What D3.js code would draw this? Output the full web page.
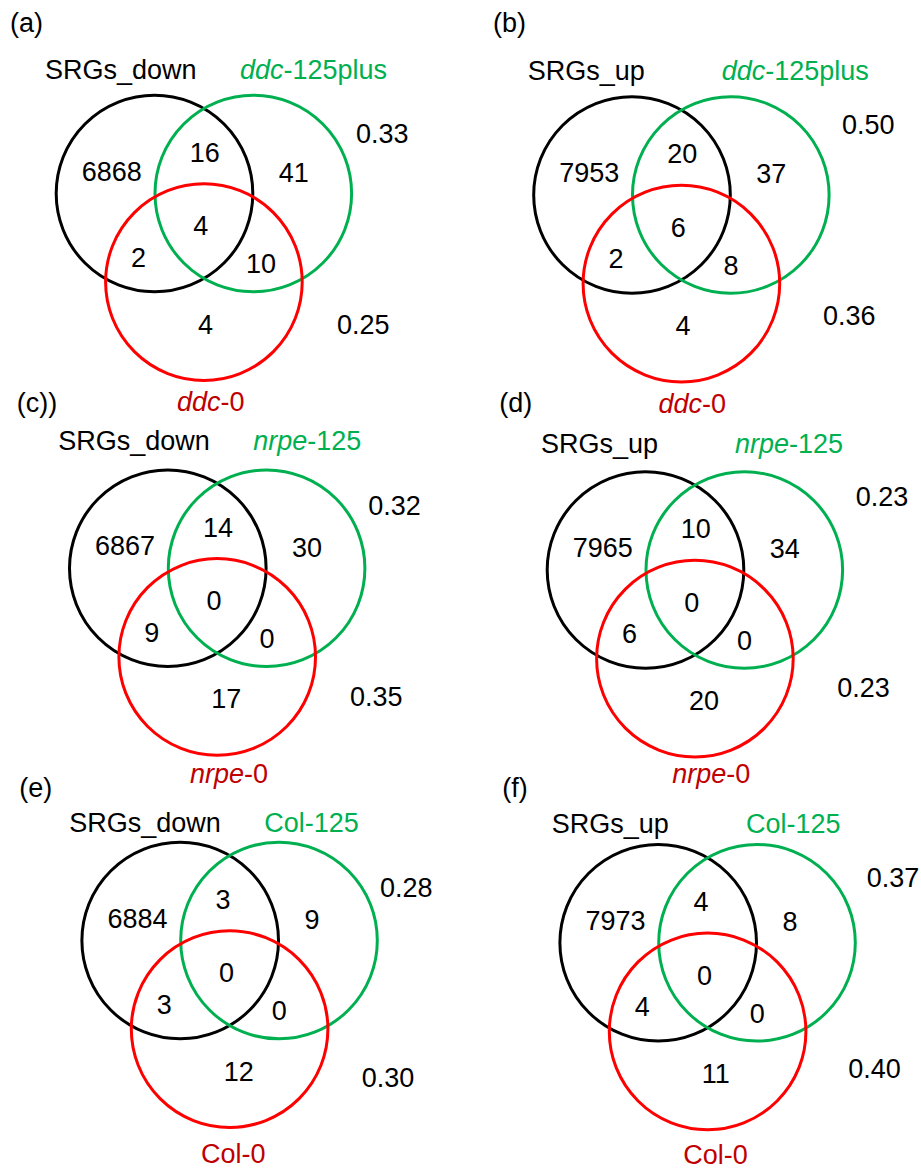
<!DOCTYPE html>
<html>
<head>
<meta charset="utf-8">
<script src="https://cdn.jsdelivr.net/npm/d3@7/dist/d3.min.js"></script>
<style>
  body { margin: 0; background: #fff; }
  text { font-family: Arial, "Liberation Sans", sans-serif; font-size: 27px; }
</style>
</head>
<body>
<div id="venn"></div>
<script>
// panel data
var panelTags = ["(a)", "(b)", "(c))", "(d)", "(e)", "(f)"];
var srgLabels = ["SRGs_down", "SRGs_up", "SRGs_down", "SRGs_up", "SRGs_down", "SRGs_up"];
var genotypes = ["ddc", "ddc", "nrpe", "nrpe", "Col", "Col"];
var greenSuffix = ["-125plus", "-125plus", "-125", "-125", "-125", "-125"];
var redSuffix = ["-0", "-0", "-0", "-0", "-0", "-0"];
// region counts: [SRG only, SRG&green, green only, all three, SRG&red, green&red, red only]
var regionCounts = [
  [6868, 16, 41, 4, 2, 10, 4],
  [7953, 20, 37, 6, 2, 8, 4],
  [6867, 14, 30, 0, 9, 0, 17],
  [7965, 10, 34, 0, 6, 0, 20],
  [6884, 3, 9, 0, 3, 0, 12],
  [7973, 4, 8, 0, 4, 0, 11]
];
var greenRatios = ["0.33", "0.50", "0.32", "0.23", "0.28", "0.37"];
var redRatios = ["0.25", "0.36", "0.35", "0.23", "0.30", "0.40"];

// layout (pixels)
var width = 921, height = 1169;
var unit = 98.8;
var circleCenters = [[0, 0], [1, 0], [0.5, 0.897]];
var circleColors = ["#000000", "#00b050", "#ff0000"];
var circleR = 0.995;
var origins = [[154.5, 193.5], [632, 195], [167.8, 568.3], [645.5, 570], [180.2, 940.5], [658.2, 942.8]];
var regionOffsets = [[-72.8, -13], [35.3, -31.8], [124.2, -11.7], [38.7, 41.8], [-23.5, 73.4], [91.6, 79.8], [43.5, 140]];
var outerOffsets = [
  { tag: [-144.5, -161.5], srg: [-109.5, -114.5], green: [85.5, -114.5], red: [22.5, 217.2], rg: [201.5, -50.5], rr: [182.5, 140.5] },
  { tag: [-139, -163], srg: [-104.3, -115], green: [89.7, -115], red: [26.5, 217.6], rg: [210, -61], rr: [191, 130] },
  { tag: [-151.1, -156.6], srg: [-109.5, -118.3], green: [85.5, -118.3], red: [22.2, 215], rg: [200.5, -53.3], rr: [182.2, 137.4] },
  { tag: [-146.2, -158.3], srg: [-104.5, -117.3], green: [89.5, -117.3], red: [26.8, 213.3], rg: [210.2, -64], rr: [191.8, 126.7] },
  { tag: [-160.9, -143.8], srg: [-110.9, -108.2], green: [84.1, -108.2], red: [20.8, 222.8], rg: [199.8, -43.8], rr: [181.5, 146.2] },
  { tag: [-155.9, -146.1], srg: [-106.5, -109.5], green: [87.8, -109.5], red: [25.1, 221.5], rg: [208.5, -55.5], rr: [190.1, 135.5] }
];

var svg = d3.select("#venn")
  .append("svg")
  .attr("width", width)
  .attr("height", height);

panelTags.forEach(function (tag, i) {
  var ox = origins[i][0], oy = origins[i][1];
  var x = d3.scaleLinear().domain([0, 1]).range([ox, ox + unit]);
  var y = d3.scaleLinear().domain([0, 1]).range([oy, oy + unit]);
  var g = svg.append("g").attr("class", "panel");
  var off = outerOffsets[i];

  g.selectAll("circle")
    .data(circleCenters)
    .enter().append("circle")
    .attr("cx", d => x(d[0]))
    .attr("cy", d => y(d[1]))
    .attr("r", x(circleR) - x(0))
    .attr("fill", "none")
    .attr("stroke", (d, k) => circleColors[k])
    .attr("stroke-width", 3);

  g.selectAll("text.count")
    .data(regionCounts[i])
    .enter().append("text")
    .attr("class", "count")
    .attr("x", (d, k) => ox + regionOffsets[k][0])
    .attr("y", (d, k) => oy + regionOffsets[k][1])
    .text(d => d);

  g.append("text").attr("x", ox + off.tag[0]).attr("y", oy + off.tag[1]).text(tag);
  g.append("text").attr("x", ox + off.srg[0]).attr("y", oy + off.srg[1]).text(srgLabels[i]);

  var italic = genotypes[i] !== "Col";
  var gl = g.append("text").attr("x", ox + off.green[0]).attr("y", oy + off.green[1]).attr("fill", "#00b050");
  gl.append("tspan").style("font-style", italic ? "italic" : "normal").text(genotypes[i]);
  gl.append("tspan").text(greenSuffix[i]);

  var rl = g.append("text").attr("x", ox + off.red[0]).attr("y", oy + off.red[1]).attr("fill", "#c00000");
  rl.append("tspan").style("font-style", italic ? "italic" : "normal").text(genotypes[i]);
  rl.append("tspan").text(redSuffix[i]);

  g.append("text").attr("x", ox + off.rg[0]).attr("y", oy + off.rg[1]).text(greenRatios[i]);
  g.append("text").attr("x", ox + off.rr[0]).attr("y", oy + off.rr[1]).text(redRatios[i]);
});
</script>
</body>
</html>
